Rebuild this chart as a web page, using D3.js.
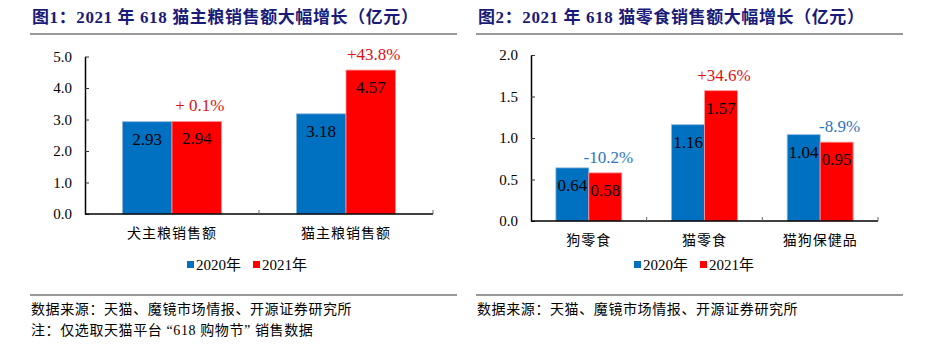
<!DOCTYPE html>
<html>
<head>
<meta charset="utf-8">
<script src="https://cdn.jsdelivr.net/npm/d3@7"></script>
<style>
  body { margin: 0; background: #fff; }
  svg { display: block; }
  text { font-family: "Liberation Serif", "Noto Sans CJK SC", serif; }
</style>
</head>
<body>
<svg id="chart" width="930" height="351"></svg>
<script>
// data
var series = ["2020年", "2021年"];
var colors = ["#0070C0", "#FF0000"];

var cats1 = ["犬主粮销售额", "猫主粮销售额"];
var v2020a = [2.93, 3.18];
var v2021a = [2.94, 4.57];
var growthA = ["+ 0.1%", "+43.8%"];
var ticksA = [0, 1, 2, 3, 4, 5];

var cats2 = ["狗零食", "猫零食", "猫狗保健品"];
var v2020b = [0.64, 1.16, 1.04];
var v2021b = [0.58, 1.57, 0.95];
var growthB = ["-10.2%", "+34.6%", "-8.9%"];
var ticksB = [0, 0.5, 1.0, 1.5, 2.0];

var svg = d3.select("#chart");
var growthRed = "#E01010", growthBlue = "#2E75C0";

/** draws one panel **/
function drawPanel(cfg) {
  var g = svg.append("g");

  // title + rule
  g.append("text")
    .attr("x", cfg.left)
    .attr("y", 23)
    .style("font-size", "17px")
    .style("font-weight", "bold")
    .style("letter-spacing", "0.6px")
    .style("fill", "#1a1a78")
    .text(cfg.title);
  g.append("line")
    .attr("x1", cfg.left - 2).attr("x2", cfg.left + 425)
    .attr("y1", 34).attr("y2", 34)
    .style("stroke", "#999").style("stroke-width", 2);

  var x = d3.scaleBand().domain(cfg.cats).range([cfg.x0, cfg.x1]);
  var xs = d3.scaleBand().domain(series).range([0, x.bandwidth()]).paddingOuter(0.755);
  var y = d3.scaleLinear().domain([0, cfg.ymax]).range([cfg.y0, cfg.y1]);

  var rows = cfg.cats.map(function(c, i) {
    return {cat: c, vals: [cfg.a[i], cfg.b[i]], growth: cfg.growth[i]};
  });

  // bars
  var grp = g.selectAll(".grp").data(rows).enter().append("g")
    .attr("transform", function(d) {return "translate(" + x(d.cat) + ",0)";});

  grp.selectAll("rect")
    .data(function(d) {return d.vals.map(function(v, j) {return {s: series[j], v: v, j: j};});})
    .enter().append("rect")
      .attr("x", function(d) {return xs(d.s);})
      .attr("y", function(d) {return y(d.v);})
      .attr("width", xs.bandwidth())
      .attr("height", function(d) {return y(0) - y(d.v);})
      .style("fill", function(d) {return colors[d.j];})
      .style("stroke", function(d) {return d.j == 0 ? "#8fb8dc" : "#ff9a9a";})
      .style("stroke-width", 0.8);

  // value labels inside bars
  grp.selectAll(".val")
    .data(function(d) {return d.vals.map(function(v, j) {return {s: series[j], v: v};});})
    .enter().append("text")
      .attr("x", function(d) {return xs(d.s) + xs.bandwidth() / 2;})
      .attr("y", function(d) {return y(d.v) + 23;})
      .style("text-anchor", "middle")
      .style("font-size", "17px")
      .style("fill", "#000")
      .text(function(d) {return d.v.toFixed(2);});

  // growth labels
  grp.append("text")
    .attr("x", xs(series[1]) + xs.bandwidth() / 2 + 3)
    .attr("y", function(d) {return y(d.vals[1]) - 10;})
    .style("text-anchor", "middle")
    .style("font-size", "17px")
    .style("fill", function(d) {return d.growth.charAt(0) == "-" ? growthBlue : growthRed;})
    .text(function(d) {return d.growth;});

  // y axis
  var ya = g.append("g")
    .attr("transform", "translate(" + cfg.x0 + ",0)")
    .call(d3.axisLeft(y).tickValues(cfg.ticks).tickFormat(d3.format(".1f")).tickSize(-4).tickSizeOuter(0).tickPadding(13));
  ya.selectAll("text").style("font-size", "15px").style("fill", "#000")
    .style("font-family", "'Liberation Serif', serif");
  ya.select(".domain").style("stroke", "#000").style("stroke-width", 1.5);
  ya.selectAll(".tick line").style("stroke", "#333");

  // x axis line + boundary ticks
  g.append("line")
    .attr("x1", cfg.x0).attr("x2", cfg.x1)
    .attr("y1", y(0)).attr("y2", y(0))
    .style("stroke", "#000").style("stroke-width", 1.5);
  g.selectAll(".xtick")
    .data(cfg.cats.slice(1).concat([null]))
    .enter().append("line")
      .attr("x1", function(d) {return d ? x(d) : cfg.x1;})
      .attr("x2", function(d) {return d ? x(d) : cfg.x1;})
      .attr("y1", y(0)).attr("y2", y(0) - 4)
      .style("stroke", "#666");

  // category labels
  g.selectAll(".cat")
    .data(cfg.cats)
    .enter().append("text")
      .attr("x", function(d) {return x(d) + x.bandwidth() / 2;})
      .attr("y", y(0) + 24)
      .style("text-anchor", "middle")
      .style("font-size", "14px")
      .style("letter-spacing", "1px")
      .style("fill", "#000")
      .text(function(d) {return d;});

  // legend
  var lg = g.append("g").attr("transform", "translate(" + cfg.legendX + ",265)");
  series.forEach(function(s, i) {
    var gx = i * 66;
    lg.append("rect").attr("x", gx).attr("y", -4).attr("width", 7).attr("height", 7)
      .style("fill", colors[i]);
    lg.append("text").attr("x", gx + 9).attr("y", 5)
      .style("font-size", "15px").style("fill", "#000").text(s);
  });

  // footer
  g.append("line")
    .attr("x1", cfg.left - 2).attr("x2", cfg.left + 425)
    .attr("y1", 295).attr("y2", 295)
    .style("stroke", "#999").style("stroke-width", 2);
  cfg.notes.forEach(function(n, i) {
    g.append("text")
      .attr("x", cfg.left - 1)
      .attr("y", 314 + i * 21)
      .style("font-size", "14px")
      .style("letter-spacing", "0.6px")
      .style("fill", "#000")
      .text(n);
  });
}

drawPanel({
  left: 32,
  title: "图1：2021 年 618 猫主粮销售额大幅增长（亿元）",
  cats: cats1, a: v2020a, b: v2021a, growth: growthA, ticks: ticksA,
  ymax: 5, x0: 85, x1: 433, y0: 214, y1: 56.5,
  legendX: 187,
  notes: ["数据来源：天猫、魔镜市场情报、开源证券研究所", "注：仅选取天猫平台 “618 购物节” 销售数据"]
});

drawPanel({
  left: 478,
  title: "图2：2021 年 618 猫零食销售额大幅增长（亿元）",
  cats: cats2, a: v2020b, b: v2021b, growth: growthB, ticks: ticksB,
  ymax: 2, x0: 531, x1: 878, y0: 221, y1: 55,
  legendX: 634,
  notes: ["数据来源：天猫、魔镜市场情报、开源证券研究所"]
});
</script>
</body>
</html>
